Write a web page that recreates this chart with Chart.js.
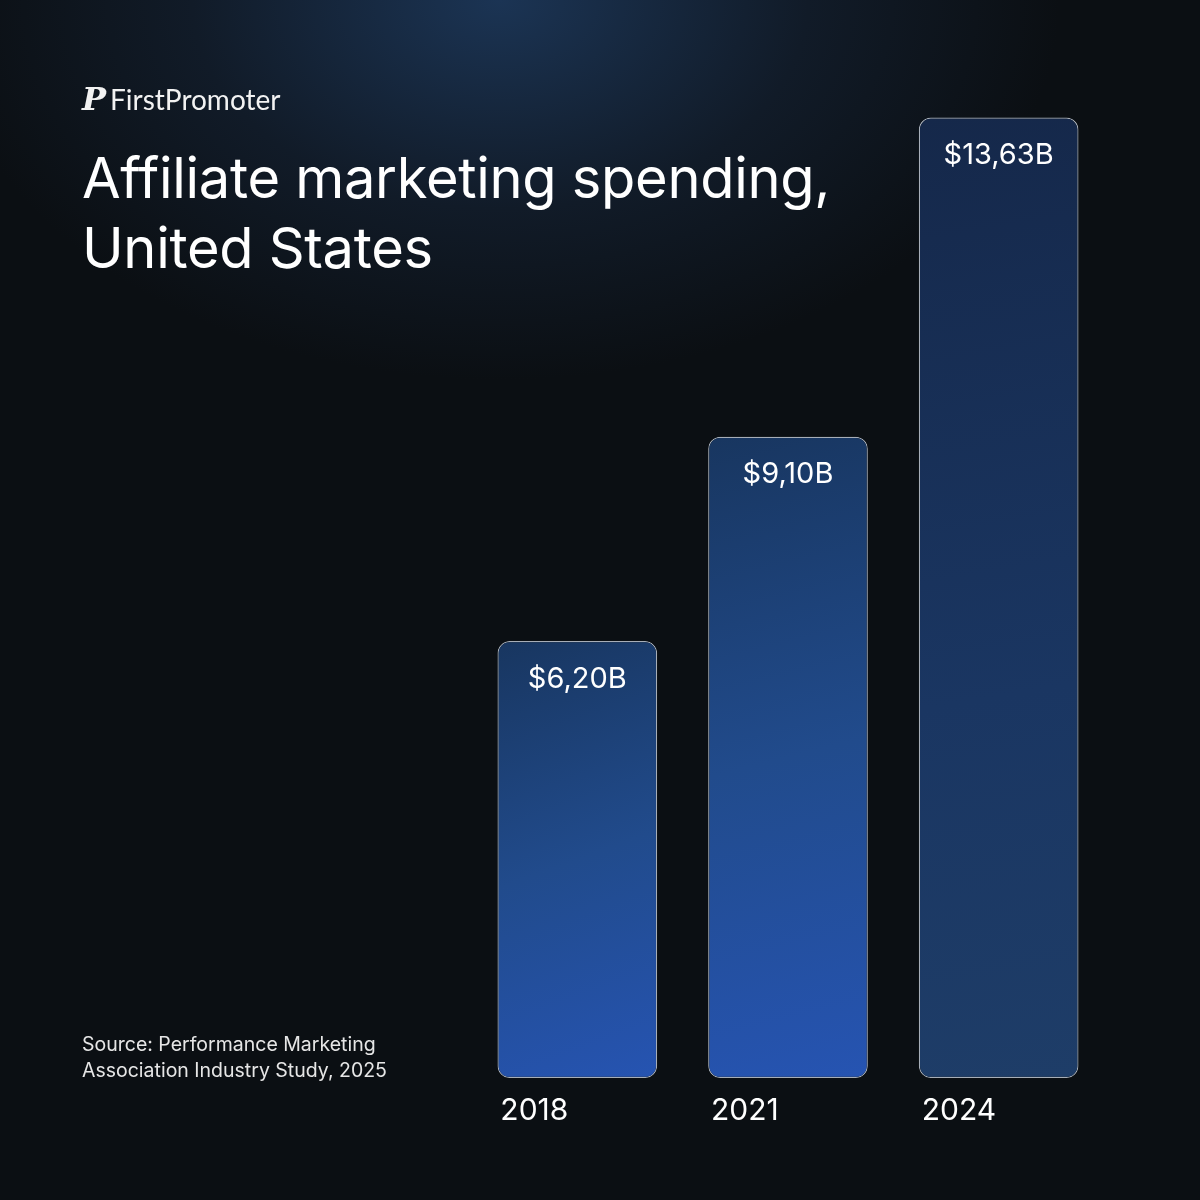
<!DOCTYPE html>
<html>
<head>
<meta charset="utf-8">
<script src="https://cdn.jsdelivr.net/npm/chart.js@4"></script>
<style>
  html, body { margin: 0; padding: 0; }
  body {
    width: 1200px; height: 1200px; overflow: hidden; position: relative;
    background: radial-gradient(ellipse 560px 380px at 500px 0px, #1b3454 0%, #111b28 55%, #0b0f13 100%);
    font-family: "Inter", "Noto Sans", sans-serif; color: #fff;
  }
  #wrap { position: absolute; left: 0; top: 0; width: 1200px; height: 1200px; }
  .logo { position: absolute; left: 82px; top: 80px; font-family: "Lato", sans-serif; font-size: 28px; color: #f2f2f2; }
  .logo b { font-family: "DejaVu Serif", serif; font-weight: 700; font-size: 32px; margin-right: 4px; font-style: italic; }
  .title { position: absolute; left: 82px; top: 143px; font-size: 56px; line-height: 70px; font-weight: 400; letter-spacing: -0.3px; }
  .source { position: absolute; left: 82px; top: 1031px; font-size: 19.5px; line-height: 26px; color: #e6e6e6; }
</style>
</head>
<body>
<div id="wrap"><canvas id="chart" width="1200" height="1200"></canvas></div>
<div class="logo"><b>P</b>FirstPromoter</div>
<div class="title">Affiliate marketing spending,<br>United States</div>
<div class="source">Source: Performance Marketing<br>Association Industry Study, 2025</div>
<script>
const years = ['2018', '2021', '2024'];
const spending = [6.20, 9.10, 13.63];
const valueLabels = ['$6,20B', '$9,10B', '$13,63B'];

function barFill(ctx) {
  const chart = ctx.chart;
  const xs = chart.scales.x, ys = chart.scales.y;
  if (!xs || !ys || !chart.chartArea) return '#1f4a8a';
  const cx = xs.getPixelForValue(ctx.dataIndex);
  const top = ys.getPixelForValue(spending[ctx.dataIndex]);
  const base = ys.getPixelForValue(0);
  const g = chart.ctx.createLinearGradient(cx - 80, top, cx + 80, base);
  if (ctx.dataIndex === 2) {
    g.addColorStop(0, '#15284a');
    g.addColorStop(0.6, '#1a3662');
    g.addColorStop(1, '#1e3d68');
  } else {
    g.addColorStop(0, '#183660');
    g.addColorStop(0.5, '#214b8c');
    g.addColorStop(1, '#2654b2');
  }
  return g;
}

const labelPlugin = {
  id: 'labels',
  afterDatasetsDraw(chart) {
    const c = chart.ctx;
    const meta = chart.getDatasetMeta(0);
    c.save();
    c.fillStyle = '#ffffff';
    meta.data.forEach((bar, i) => {
      c.font = '29px Inter, "Noto Sans", sans-serif';
      c.textAlign = 'center';
      c.textBaseline = 'middle';
      c.fillText(valueLabels[i], bar.x, bar.y + 38);
      c.font = '30px Inter, "Noto Sans", sans-serif';
      c.textAlign = 'left';
      c.fillText(years[i], bar.x - 77, 1111);
    });
    c.restore();
  }
};

new Chart(document.getElementById('chart'), {
  type: 'bar',
  data: {
    labels: years,
    datasets: [{
      data: spending,
      backgroundColor: barFill,
      borderColor: 'rgba(220,228,240,0.75)',
      borderWidth: 1.2,
      borderRadius: 12,
      borderSkipped: false,
      barPercentage: 0.758,
      categoryPercentage: 1
    }]
  },
  options: {
    responsive: false,
    animation: false,
    layout: { padding: { left: 472, right: 96, top: 95, bottom: 122 } },
    plugins: { legend: { display: false }, tooltip: { enabled: false } },
    scales: {
      x: { display: false },
      y: { display: false, min: 0, max: 13.95 }
    }
  },
  plugins: [labelPlugin]
});
</script>
</body>
</html>
